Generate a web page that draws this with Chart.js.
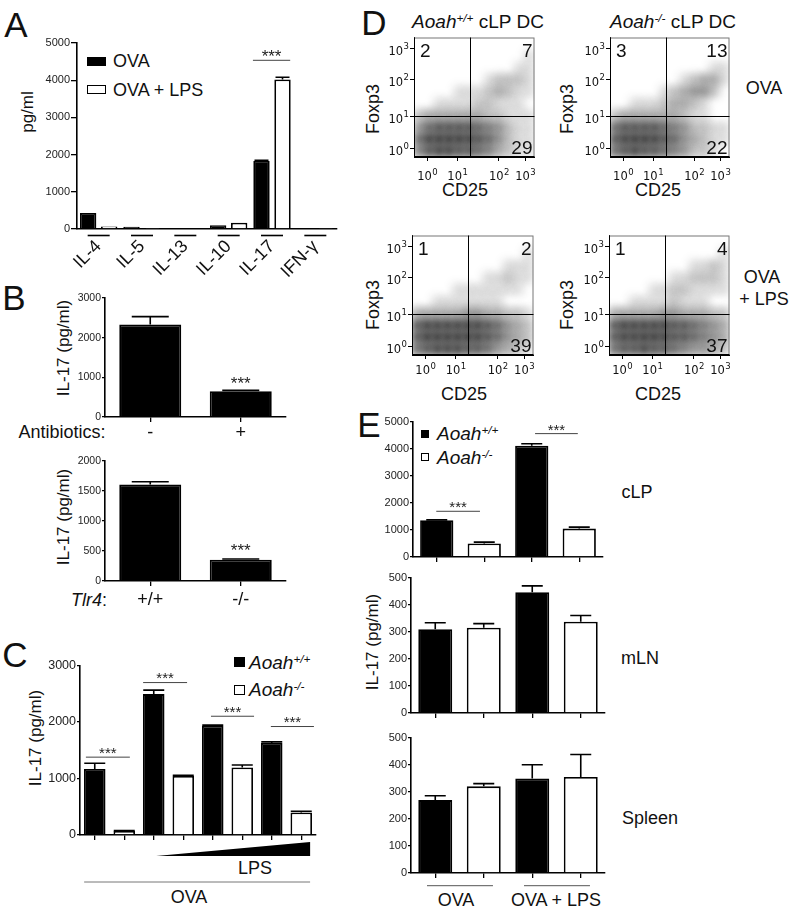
<!DOCTYPE html>
<html>
<head>
<meta charset="utf-8">
<title>IL-17 and Aoah figure</title>
<script src="https://cdn.jsdelivr.net/npm/chart.js@4.4.1/dist/chart.umd.min.js"></script>
<style>
  body { margin: 0; width: 796px; height: 913px; position: relative; overflow: hidden; background: #fff;
         font-family: 'Liberation Sans', Arial, sans-serif; color: #111; }
  canvas { position: absolute; }
  .t { position: absolute; white-space: nowrap; line-height: 1; transform: translate(-50%, -50%); }
  .t.l { transform: translate(0, -50%); }
  .t.v { transform: translate(-50%, -50%) rotate(-90deg); }
  .sq { position: absolute; box-sizing: border-box; border: 1.5px solid #000; }
  sup { font-size: 0.62em; vertical-align: baseline; position: relative; top: -0.55em; }
</style>
</head>
<body>
<!-- panel letters -->
<div class="t" style="left:16px;top:24px;font-size:35px">A</div>
<div class="t" style="left:14px;top:297px;font-size:35px">B</div>
<div class="t" style="left:15px;top:654px;font-size:35px">C</div>
<div class="t" style="left:374px;top:22px;font-size:35px">D</div>
<div class="t" style="left:369px;top:424px;font-size:35px">E</div>

<!-- A -->
<div class="t v" style="left:27px;top:112px;font-size:17px">pg/ml</div>
<div class="sq" style="left:87px;top:57px;width:19px;height:9px;background:#000"></div>
<div class="sq" style="left:87px;top:85px;width:19px;height:9px;background:#fff"></div>
<div class="t l" style="left:113px;top:61px;font-size:18px">OVA</div>
<div class="t l" style="left:113px;top:90px;font-size:18px">OVA + LPS</div>

<!-- B -->
<div class="t v" style="left:63px;top:348px;font-size:17px">IL-17 (pg/ml)</div>
<div class="t" style="left:62px;top:432px;font-size:18px">Antibiotics:</div>
<div class="t v" style="left:63px;top:517px;font-size:17px">IL-17 (pg/ml)</div>
<div class="t" style="left:89px;top:600px;font-size:18px"><i>Tlr4</i>:</div>

<!-- C -->
<div class="t v" style="left:35px;top:738px;font-size:17px">IL-17 (pg/ml)</div>
<div class="sq" style="left:234px;top:657px;width:11px;height:10px;background:#000"></div>
<div class="sq" style="left:234px;top:685px;width:11px;height:10px;background:#fff;border-width:1.2px"></div>
<div class="t l" style="left:249px;top:662px;font-size:19px"><i>Aoah<sup>+/+</sup></i></div>
<div class="t l" style="left:249px;top:689px;font-size:19px"><i>Aoah<sup>-/-</sup></i></div>
<div class="t" style="left:255px;top:868px;font-size:18px">LPS</div>
<div class="t" style="left:189px;top:897px;font-size:18px">OVA</div>

<!-- D -->
<div class="t" style="left:478px;top:21px;font-size:19px"><i>Aoah<sup>+/+</sup></i> cLP DC</div>
<div class="t" style="left:673px;top:21px;font-size:19px"><i>Aoah<sup>-/-</sup></i> cLP DC</div>
<div class="t v" style="left:373px;top:109px;font-size:18px">Foxp3</div>
<div class="t v" style="left:567px;top:109px;font-size:18px">Foxp3</div>
<div class="t v" style="left:373px;top:305px;font-size:18px">Foxp3</div>
<div class="t v" style="left:567px;top:305px;font-size:18px">Foxp3</div>
<div class="t" style="left:465px;top:190px;font-size:18px">CD25</div>
<div class="t" style="left:658px;top:190px;font-size:18px">CD25</div>
<div class="t" style="left:464px;top:394px;font-size:18px">CD25</div>
<div class="t" style="left:658px;top:394px;font-size:18px">CD25</div>
<div class="t" style="left:764px;top:88px;font-size:18px">OVA</div>
<div class="t" style="left:762px;top:277px;font-size:18px">OVA</div>
<div class="t" style="left:764px;top:299px;font-size:18px">+ LPS</div>

<!-- E -->
<div class="t v" style="left:372px;top:642px;font-size:17px">IL-17 (pg/ml)</div>
<div class="sq" style="left:421px;top:430px;width:8px;height:8px;background:#000"></div>
<div class="sq" style="left:421px;top:453px;width:8px;height:8px;background:#fff;border-width:1.2px"></div>
<div class="t l" style="left:437px;top:433px;font-size:19px"><i>Aoah<sup>+/+</sup></i></div>
<div class="t l" style="left:437px;top:457px;font-size:19px"><i>Aoah<sup>-/-</sup></i></div>
<div class="t" style="left:637px;top:492px;font-size:18px">cLP</div>
<div class="t" style="left:640px;top:658px;font-size:18px">mLN</div>
<div class="t" style="left:650px;top:818px;font-size:18px">Spleen</div>
<div class="t" style="left:456px;top:900px;font-size:18px">OVA</div>
<div class="t" style="left:556px;top:900px;font-size:18px">OVA + LPS</div>

<script>
// A: cytokines, OVA vs OVA + LPS
const a_labels = ['IL-4', 'IL-5', 'IL-13', 'IL-10', 'IL-17', 'IFN-γ'];
const a_ova = [430, 60, 20, 100, 1830, 20];
const a_ova_err = [0, 0, 0, 0, 15, 0];
const a_lps = [70, 30, 20, 170, 4020, 15];
const a_lps_err = [0, 0, 0, 0, 60, 0];
const a_sig = [[3.56, 4.42, 4535]];

// B: antibiotics, Tlr4
const b1_labels = ['-', '+'];
const b1_vals = [2330, 650];
const b1_err = [200, 20];
const b1_sig = [[1, 1, 943]];
const b2_labels = ['+/+', '-/-'];
const b2_vals = [1610, 355];
const b2_err = [45, 12];
const b2_sig = [[1, 1, 577]];

// C: LPS dose, Aoah genotype
const c_labels = ['OVA +/+', 'OVA -/-', 'LPS1 +/+', 'LPS1 -/-', 'LPS2 +/+', 'LPS2 -/-', 'LPS3 +/+', 'LPS3 -/-'];
const c_geno = ['+/+', '-/-', '+/+', '-/-', '+/+', '-/-', '+/+', '-/-'];
const c_vals = [1170, 70, 2494, 1047, 1935, 1194, 1629, 400];
const c_err = [100, 8, 70, 10, 10, 45, 20, 20];
const c_sig = [[-0.3, 1.19, 1378], [1.64, 3.13, 2698], [3.94, 5.4, 2102], [5.97, 7.43, 1920]];

// D: flow plots, density read per cell (12 cols x 10 rows, top row first)
const d_gate = [46.5, 34.3];
const d_xticks = [11, 36, 70.5, 92.3];
const d_yticks = [7, 34, 65, 91];
const d_exp = ['0', '1', '2', '3'];
const d_quads = [[2, 7, 29], [3, 13, 22], [1, 2, 39], [1, 4, 37]];
const d_wt_ova = [
  [0,0,0,0,0,0,0,0,0,0,0,0],
  [0,0,0,0,0,0,0,0,0,0,0,1],
  [0,0,0,0,0,0,0,0,0,0,1,1],
  [0,0,0,0,0,0,0,1,2,2,2,1],
  [0,0,0,0,1,1,1,2,3,2,1,1],
  [0,0,1,1,1,1,2,2,1,1,1,0],
  [2,3,3,3,3,3,3,2,2,1,1,1],
  [4,6,7,7,7,7,6,5,4,2,1,1],
  [6,8,9,9,9,8,7,6,4,2,1,1],
  [5,7,8,8,7,7,6,5,3,2,1,1]
];
const d_ko_ova = [
  [0,0,0,0,0,0,0,0,0,0,0,0],
  [0,0,0,0,0,0,0,0,0,0,0,0],
  [0,0,0,0,0,0,0,0,0,0,1,1],
  [0,0,0,0,0,0,0,1,2,3,3,1],
  [0,0,0,0,0,1,2,3,4,4,2,0],
  [0,0,1,1,1,2,3,3,2,1,0,0],
  [2,3,3,3,3,3,3,2,1,1,0,0],
  [6,7,7,7,7,6,5,4,2,2,1,1],
  [7,8,9,9,8,7,6,4,3,2,1,1],
  [6,7,8,7,7,6,5,4,2,2,1,0]
];
const d_wt_lps = [
  [0,0,0,0,0,0,0,0,0,0,0,0],
  [0,0,0,0,0,0,0,0,0,0,0,1],
  [0,0,0,0,0,0,0,0,0,1,1,1],
  [0,0,0,0,0,0,0,1,1,2,1,1],
  [0,0,0,0,1,1,1,1,1,1,1,0],
  [0,0,1,1,1,1,1,1,1,0,0,0],
  [3,3,3,3,3,4,4,3,3,2,2,1],
  [7,8,8,8,8,8,8,7,6,4,3,2],
  [7,9,9,9,9,9,8,7,6,4,3,2],
  [6,7,8,8,8,7,7,6,4,3,2,1]
];
const d_ko_lps = [
  [0,0,0,0,0,0,0,0,0,0,0,0],
  [0,0,0,0,0,0,0,0,0,0,0,1],
  [0,0,0,0,0,0,0,0,1,1,2,1],
  [0,0,0,0,0,0,1,1,2,2,2,1],
  [0,0,0,0,1,1,2,2,1,1,1,1],
  [0,0,1,1,1,1,2,1,1,1,0,0],
  [3,3,3,3,3,4,4,3,3,3,2,2],
  [7,8,8,8,8,8,7,7,6,5,4,3],
  [7,8,8,9,9,8,7,7,6,5,4,3],
  [6,7,7,8,7,7,6,5,4,4,3,2]
];

// E: cLP, mLN, spleen
const e_labels = ['OVA +/+', 'OVA -/-', 'OVA+LPS +/+', 'OVA+LPS -/-'];
const e_geno = ['+/+', '-/-', '+/+', '-/-'];
const e_clp = [1359, 500, 4120, 1052];
const e_clp_err = [15, 50, 75, 55];
const e_clp_sig = [[-0.01, 0.91, 1693], [2.07, 2.97, 4570]];
const e_mln = [310, 316, 447, 338];
const e_mln_err = [24, 15, 24, 23];
const e_spl = [270, 321, 350, 356];
const e_spl_err = [16, 10, 51, 83];

const FONT = "'Liberation Sans', Arial, sans-serif";
Chart.defaults.font.family = FONT;
Chart.defaults.color = '#222';
Chart.defaults.animation = false;
Chart.defaults.events = [];
Chart.defaults.plugins.legend.display = false;
Chart.defaults.plugins.tooltip.enabled = false;

// put a chart so that its plot area lands on box = [left, top, right, bottom]
// m = [top, right, bottom, left] space around it
function place(box, m, config) {
  const [l, t, r, b] = box;
  const cv = document.createElement('canvas');
  const w = r - l + m[1] + m[3], h = b - t + m[0] + m[2];
  cv.width = w; cv.height = h;
  Object.assign(cv.style, {left: (l - m[3]) + 'px', top: (t - m[0]) + 'px', width: w + 'px', height: h + 'px'});
  document.body.appendChild(cv);
  const o = config.options;
  o.responsive = false;
  o.maintainAspectRatio = false;
  o.devicePixelRatio = 1;
  o.layout = {padding: {top: m[0], right: m[1], bottom: 0, left: 0}};
  o.scales.x.afterFit = s => { s.height = m[2]; };
  o.scales.y.afterFit = s => { s.width = m[3]; };
  return new Chart(cv, config);
}

function valueAxis(max, step, size, tickLen) {
  return {
    min: 0, max: max,
    ticks: {stepSize: step, font: {size: size}, padding: 1, color: '#222', callback: v => String(v)},
    grid: {drawOnChartArea: false, tickLength: tickLen, color: '#000', lineWidth: 1.3},
    border: {color: '#000', width: 1.6}
  };
}

function catAxis(show, size, pad) {
  return {
    offset: true,
    ticks: {display: show, font: {size: size}, padding: pad, color: '#111', maxRotation: 0, autoSkip: false},
    grid: {offset: false, drawOnChartArea: false, tickLength: 5, color: '#000', lineWidth: 1.3},
    border: {color: '#000', width: 1.6}
  };
}

const fill = g => g === '+/+' ? '#000' : '#fff';

function errorBars(cap) {
  return {
    id: 'errorBars',
    afterDatasetsDraw(chart) {
      const {ctx} = chart, y = chart.scales.y;
      ctx.save();
      ctx.strokeStyle = '#000';
      ctx.lineWidth = 1.6;
      chart.data.datasets.forEach((ds, di) => {
        if (!ds.err) return;
        chart.getDatasetMeta(di).data.forEach((bar, i) => {
          const e = ds.err[i];
          if (!e) return;
          const top = y.getPixelForValue(ds.data[i] + e);
          ctx.beginPath();
          ctx.moveTo(bar.x, bar.y);
          ctx.lineTo(bar.x, top);
          ctx.moveTo(bar.x - cap / 2, top);
          ctx.lineTo(bar.x + cap / 2, top);
          ctx.stroke();
        });
      });
      ctx.restore();
    }
  };
}

function stars(lines, size) {
  return {
    id: 'stars',
    afterDatasetsDraw(chart) {
      const {ctx, scales: {x, y}} = chart;
      ctx.save();
      ctx.strokeStyle = '#444';
      ctx.lineWidth = 1;
      ctx.fillStyle = '#222';
      ctx.textAlign = 'center';
      ctx.textBaseline = 'alphabetic';
      ctx.font = size + 'px ' + FONT;
      lines.forEach(([x0, x1, v]) => {
        const p0 = x.getPixelForValue(x0), p1 = x.getPixelForValue(x1), py = y.getPixelForValue(v);
        let cy = py;
        if (x0 !== x1) {
          ctx.beginPath(); ctx.moveTo(p0, py); ctx.lineTo(p1, py); ctx.stroke();
          cy = py - 7.5;
        }
        ctx.fillText('***', (p0 + p1) / 2, cy + 0.56 * size);
      });
      ctx.restore();
    }
  };
}

// ---------- A
const aUnder = {
  id: 'aUnder',
  afterDraw(chart) {
    const {ctx, chartArea: a, scales: {x}} = chart;
    ctx.save();
    ctx.strokeStyle = '#000';
    ctx.lineWidth = 1.6;
    a_labels.forEach((lab, i) => {
      const cx = x.getPixelForValue(i);
      ctx.beginPath(); ctx.moveTo(cx - 11, a.bottom + 6.5); ctx.lineTo(cx + 11, a.bottom + 6.5); ctx.stroke();
    });
    ctx.restore();
  }
};
const aX = catAxis(true, 18, 7);
aX.ticks.minRotation = 45;
aX.ticks.maxRotation = 45;
aX.grid.drawTicks = false;
place([77, 43, 337, 229], [8, 6, 64, 40], {
  type: 'bar',
  data: {labels: a_labels, datasets: [
    {label: 'OVA', data: a_ova, err: a_ova_err, backgroundColor: '#000', borderColor: '#000', borderWidth: 1.8,
     categoryPercentage: 0.97, barPercentage: 0.78},
    {label: 'OVA + LPS', data: a_lps, err: a_lps_err, backgroundColor: '#fff', borderColor: '#000', borderWidth: 1.8,
     categoryPercentage: 0.97, barPercentage: 0.78}
  ]},
  options: {scales: {x: aX, y: valueAxis(5000, 1000, 11, 6)}},
  plugins: [errorBars(14), stars(a_sig, 17), aUnder]
});

// ---------- B
place([105, 298, 286, 417], [8, 6, 30, 40], {
  type: 'bar',
  data: {labels: b1_labels, datasets: [
    {data: b1_vals, err: b1_err, backgroundColor: '#000', borderColor: '#000', borderWidth: 1.8,
     categoryPercentage: 1, barPercentage: 0.685}
  ]},
  options: {scales: {x: catAxis(true, 18, 0), y: valueAxis(3000, 1000, 10.5, 3)}},
  plugins: [errorBars(37), stars(b1_sig, 17)]
});
place([105, 461, 286, 581], [8, 6, 32, 40], {
  type: 'bar',
  data: {labels: b2_labels, datasets: [
    {data: b2_vals, err: b2_err, backgroundColor: '#000', borderColor: '#000', borderWidth: 1.8,
     categoryPercentage: 1, barPercentage: 0.685}
  ]},
  options: {scales: {x: catAxis(true, 18, 3.5), y: valueAxis(2000, 500, 10.5, 3)}},
  plugins: [errorBars(37), stars(b2_sig, 17)]
});

// ---------- C
const cDeco = {
  id: 'cDeco',
  afterDraw(chart) {
    const {ctx, chartArea: a, scales: {x}} = chart;
    ctx.save();
    const w0 = x.getPixelForValue(2.08), w1 = x.getPixelForValue(7.3);
    ctx.fillStyle = '#000';
    ctx.beginPath();
    ctx.moveTo(w0, a.bottom + 21);
    ctx.lineTo(w1, a.bottom + 7);
    ctx.lineTo(w1, a.bottom + 21);
    ctx.closePath();
    ctx.fill();
    ctx.strokeStyle = '#777';
    ctx.lineWidth = 1;
    ctx.beginPath();
    ctx.moveTo(x.getPixelForValue(-0.36), a.bottom + 47);
    ctx.lineTo(w1, a.bottom + 47);
    ctx.stroke();
    ctx.restore();
  }
};
place([80, 665, 316, 835], [8, 6, 60, 45], {
  type: 'bar',
  data: {labels: c_labels, datasets: [
    {data: c_vals, err: c_err, backgroundColor: c_geno.map(fill), borderColor: '#000', borderWidth: 1.8,
     categoryPercentage: 1, barPercentage: 0.73}
  ]},
  options: {scales: {x: catAxis(false, 12, 0), y: valueAxis(3000, 1000, 12.5, 3)}},
  plugins: [errorBars(21), stars(c_sig, 15), cDeco]
});

// ---------- D
function densityPoints(grid) {
  const pts = [];
  grid.forEach((row, r) => row.forEach((v, c) => {
    if (v) pts.push({x: (c + 0.5) * 100 / row.length, y: 100 - (r + 0.5) * 100 / grid.length, v: v});
  }));
  return pts;
}
function flowAxis(ticks) {
  return {
    type: 'linear', min: 0, max: 100,
    afterBuildTicks: s => { s.ticks = ticks.map(v => ({value: v})); },
    ticks: {display: false},
    grid: {drawOnChartArea: false, tickLength: 4, color: '#000', lineWidth: 1},
    border: {color: '#000', width: 1}
  };
}
// soften the density cells so they read as a cloud of events
const softCloud = {
  id: 'softCloud',
  beforeDatasetsDraw(chart) { chart.ctx.save(); chart.ctx.filter = 'blur(4px)'; },
  afterDatasetsDraw(chart) { chart.ctx.restore(); }
};
function flowDeco(quads, xOff) {
  return {
    id: 'flowDeco',
    afterDraw(chart) {
      const {ctx, chartArea: a, scales: {x, y}} = chart;
      ctx.save();
      ctx.lineWidth = 1;
      ctx.strokeStyle = '#777';
      ctx.strokeRect(a.left + 0.5, a.top + 0.5, a.width - 1, a.height - 1);
      ctx.strokeStyle = '#000';
      const gx = Math.round(x.getPixelForValue(d_gate[0])) + 0.5;
      const gy = Math.round(y.getPixelForValue(d_gate[1])) + 0.5;
      ctx.beginPath();
      ctx.moveTo(gx, a.top); ctx.lineTo(gx, a.bottom);
      ctx.moveTo(a.left, gy); ctx.lineTo(a.right, gy);
      ctx.moveTo(a.left + 0.5, a.top); ctx.lineTo(a.left + 0.5, a.bottom);
      ctx.moveTo(a.left, a.bottom - 0.5); ctx.lineTo(a.right, a.bottom - 0.5);
      ctx.stroke();
      // quadrant percentages
      ctx.fillStyle = '#111';
      ctx.font = '19px ' + FONT;
      ctx.textBaseline = 'alphabetic';
      ctx.textAlign = 'left';
      ctx.fillText(quads[0], a.left + 6, a.top + 19);
      ctx.textAlign = 'right';
      ctx.fillText(quads[1], a.right - 2, a.top + 19);
      ctx.fillText(quads[2], a.right - 2, a.bottom - 3);
      // 10^n tick labels
      const base = "11.5px 'DejaVu Sans', sans-serif", sup = "8.5px 'DejaVu Sans', sans-serif";
      ctx.textAlign = 'left';
      d_xticks.forEach((v, i) => {
        ctx.font = base; const wb = ctx.measureText('10').width;
        ctx.font = sup; const we = ctx.measureText(d_exp[i]).width;
        const px = x.getPixelForValue(v) - (wb + we) / 2, by = a.bottom + xOff + 4.1;
        ctx.font = base; ctx.fillText('10', px, by);
        ctx.font = sup; ctx.fillText(d_exp[i], px + wb + 0.5, by - 5);
      });
      ctx.textAlign = 'right';
      d_yticks.forEach((v, i) => {
        const py = y.getPixelForValue(v);
        ctx.font = sup; const we = ctx.measureText(d_exp[i]).width;
        const rx = a.left - 5;
        ctx.fillText(d_exp[i], rx, py + 0.6);
        ctx.font = base; ctx.fillText('10', rx - we - 0.5, py + 6.6);
      });
      ctx.restore();
    }
  };
}
function flowChart(box, grid, quads, xOff) {
  return place(box, [4, 4, 30, 32], {
    type: 'scatter',
    data: {datasets: [{
      data: densityPoints(grid), pointRadius: 6.5, borderWidth: 0, clip: 0,
      backgroundColor: c => 'rgba(25,25,25,' + (c.raw ? Math.min(0.95, 0.04 + 0.11 * c.raw.v) : 0) + ')'
    }]},
    options: {scales: {x: flowAxis(d_xticks), y: flowAxis(d_yticks)}},
    plugins: [softCloud, flowDeco(quads, xOff)]
  });
}
flowChart([414, 35, 537, 157], d_wt_ova, d_quads[0], 19);
flowChart([610, 35, 732, 157], d_ko_ova, d_quads[1], 19);
flowChart([412, 233, 536, 355], d_wt_lps, d_quads[2], 15);
flowChart([609, 233, 732, 355], d_ko_lps, d_quads[3], 15);

// ---------- E
const eUnder = {
  id: 'eUnder',
  afterDraw(chart) {
    const {ctx, chartArea: a, scales: {x}} = chart;
    ctx.save();
    ctx.strokeStyle = '#555';
    ctx.lineWidth = 1;
    [[-0.17, 1.19], [1.83, 3.19]].forEach(([i0, i1]) => {
      ctx.beginPath();
      ctx.moveTo(x.getPixelForValue(i0), a.bottom + 12.7);
      ctx.lineTo(x.getPixelForValue(i1), a.bottom + 12.7);
      ctx.stroke();
    });
    ctx.restore();
  }
};
function eChart(box, vals, err, max, step, sig, extra) {
  const plugins = [errorBars(21), stars(sig, 15)];
  if (extra) plugins.push(extra);
  return place(box, [8, 6, 20, 40], {
    type: 'bar',
    data: {labels: e_labels, datasets: [
      {data: vals, err: err, backgroundColor: e_geno.map(fill), borderColor: '#000', borderWidth: 1.8,
       categoryPercentage: 1, barPercentage: 0.7}
    ]},
    options: {scales: {x: catAxis(false, 12, 0), y: valueAxis(max, step, 11, 3)}},
    plugins: plugins
  });
}
eChart([413, 422, 603, 557], e_clp, e_clp_err, 5000, 1000, e_clp_sig);
eChart([411, 578, 605, 713], e_mln, e_mln_err, 500, 100, []);
eChart([411, 738, 605, 873], e_spl, e_spl_err, 500, 100, [], eUnder);
</script>
</body>
</html>
